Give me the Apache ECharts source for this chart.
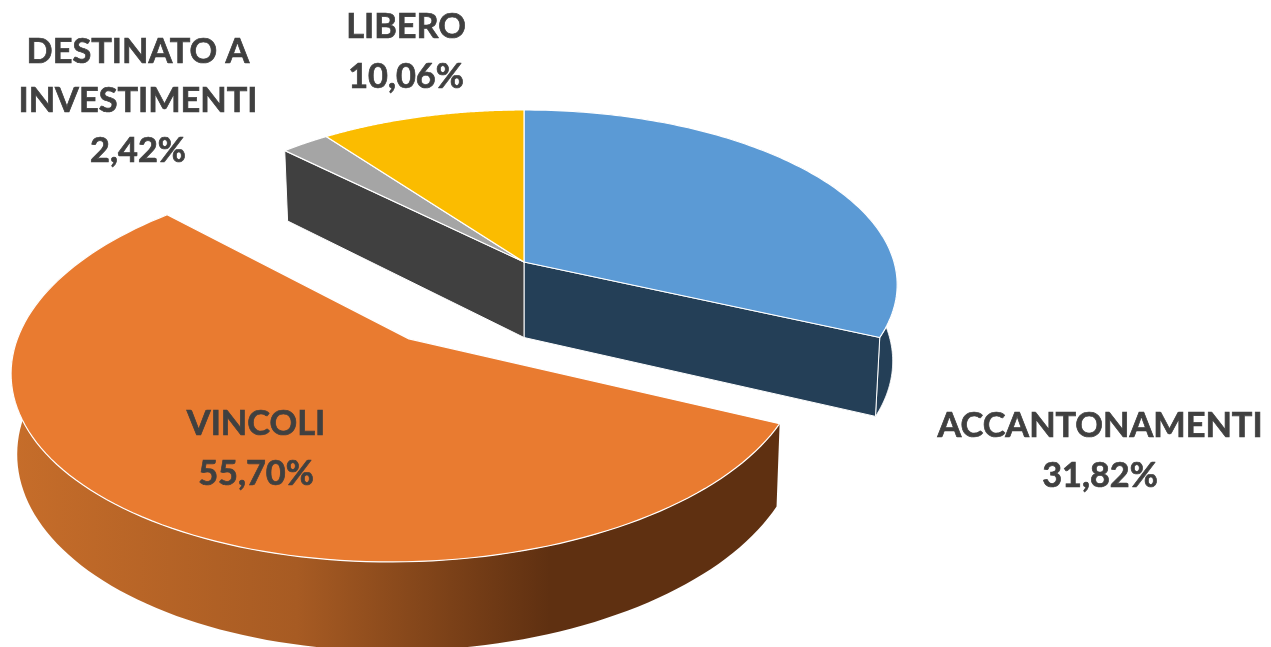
<!DOCTYPE html>
<html>
<head>
<meta charset="utf-8">
<script src="https://cdn.jsdelivr.net/npm/echarts@6/dist/echarts.min.js"></script>
<style>html,body{margin:0;padding:0;background:#fff}#c{width:1271px;height:647px}</style>
</head>
<body>
<div id="c"></div>
<script>
const categories = ['ACCANTONAMENTI', 'VINCOLI', 'DESTINATO A\nINVESTIMENTI', 'LIBERO'];
const values = [31.82, 55.70, 2.42, 10.06];
const explode = [0, 0.515, 0, 0];
const topColors = ['#5b9ad5', '#e97b30', '#a5a5a5', '#fbbc00'];
const sideColors = ['#243f57', null, '#404040', null];
const labelCenters = [[1100, 451], [256, 449], [138, 101], [406, 52]];

const PIE = { cx: 524, cy: 262, rx: 370, ry: 171.8, p: 0.13, depth: 75.5, shrink: 0.988 };
const total = values.reduce((a, b) => a + b, 0);
const starts = [];
values.reduce((acc, v, i) => { starts[i] = acc; return acc + v; }, 0);
const toAngle = v => v / total * Math.PI * 2;

function project(u, v, lower) {
  const w = 1 - PIE.p * v;
  const s = lower ? PIE.shrink : 1;
  const dy = lower ? PIE.depth / Math.pow(w, 0.8) : 0;
  return [PIE.cx + PIE.rx * u * s / w, PIE.cy + PIE.ry * v / w + dy];
}

function renderItem(params, api) {
  const i = params.dataIndex;
  const a0 = toAngle(starts[i]);
  const a1 = a0 + toAngle(api.value(0));
  const mid = (a0 + a1) / 2;
  const ou = explode[i] * Math.sin(mid);
  const ov = -explode[i] * Math.cos(mid);
  const pt = (a, r, lower) => api.coord(project(ou + r * Math.sin(a), ov - r * Math.cos(a), lower));
  const arc = lower => {
    const n = 120, out = [];
    for (let k = 0; k <= n; k++) out.push(pt(a0 + (a1 - a0) * k / n, 1, lower));
    return out;
  };
  const topArc = arc(false), lowArc = arc(true);
  const apexT = pt(0, 0, false), apexL = pt(0, 0, true);
  const children = [];
  const edge = { stroke: '#ffffff', lineWidth: 1.2, lineJoin: 'round' };
  const poly = (points, fill, extra) => ({
    type: 'polygon', shape: { points },
    style: Object.assign({ fill }, edge, extra || {})
  });

  if (i === 1) {
    const grad = new echarts.graphic.LinearGradient(api.coord([13, 0])[0], 0, api.coord([780, 0])[0], 0, [
      { offset: 0, color: '#c66d2a' },
      { offset: 0.37, color: '#a75b23' },
      { offset: 0.70, color: '#5f3011' },
      { offset: 1, color: '#5f3011' }
    ], true);
    children.push(poly(topArc.concat(lowArc.slice().reverse()), grad, { stroke: null, lineWidth: 0 }));
  }
  if (i === 0) {
    children.push(poly(topArc.concat(lowArc.slice().reverse()), sideColors[0], { lineWidth: 0.8 }));
    children.push(poly([apexT, topArc[topArc.length - 1], lowArc[lowArc.length - 1], apexL], sideColors[0], { lineWidth: 1 }));
  }
  if (i === 2) {
    children.push(poly([apexT, topArc[0], lowArc[0], apexL], sideColors[2], { lineWidth: 1 }));
  }
  children.push(poly([apexT].concat(topArc), topColors[i]));
  const c = api.coord(labelCenters[i]);
  children.push({
    type: 'text', z2: 50,
    style: {
      text: categories[i] + '\n' + values[i].toFixed(2).replace('.', ',') + '%',
      x: c[0], y: c[1], align: 'center', verticalAlign: 'middle',
      font: 'bold 34.3px Lato', lineHeight: 49.5, fill: '#404040',
      stroke: '#404040', lineWidth: 0.7
    }
  });
  return { type: 'group', children };
}

const chart = echarts.init(document.getElementById('c'), null, { renderer: 'canvas' });
chart.setOption({
  animation: false,
  backgroundColor: '#ffffff',
  grid: { left: 0, right: 0, top: 0, bottom: 0 },
  xAxis: { type: 'value', min: 0, max: 1271, show: false },
  yAxis: { type: 'value', min: 0, max: 647, inverse: true, show: false },
  series: [{
    type: 'custom', clip: true, silent: true,
    coordinateSystem: 'cartesian2d',
    renderItem,
    encode: { x: 0 },
    data: values.map(v => [v])
  }]
});
</script>
</body>
</html>
